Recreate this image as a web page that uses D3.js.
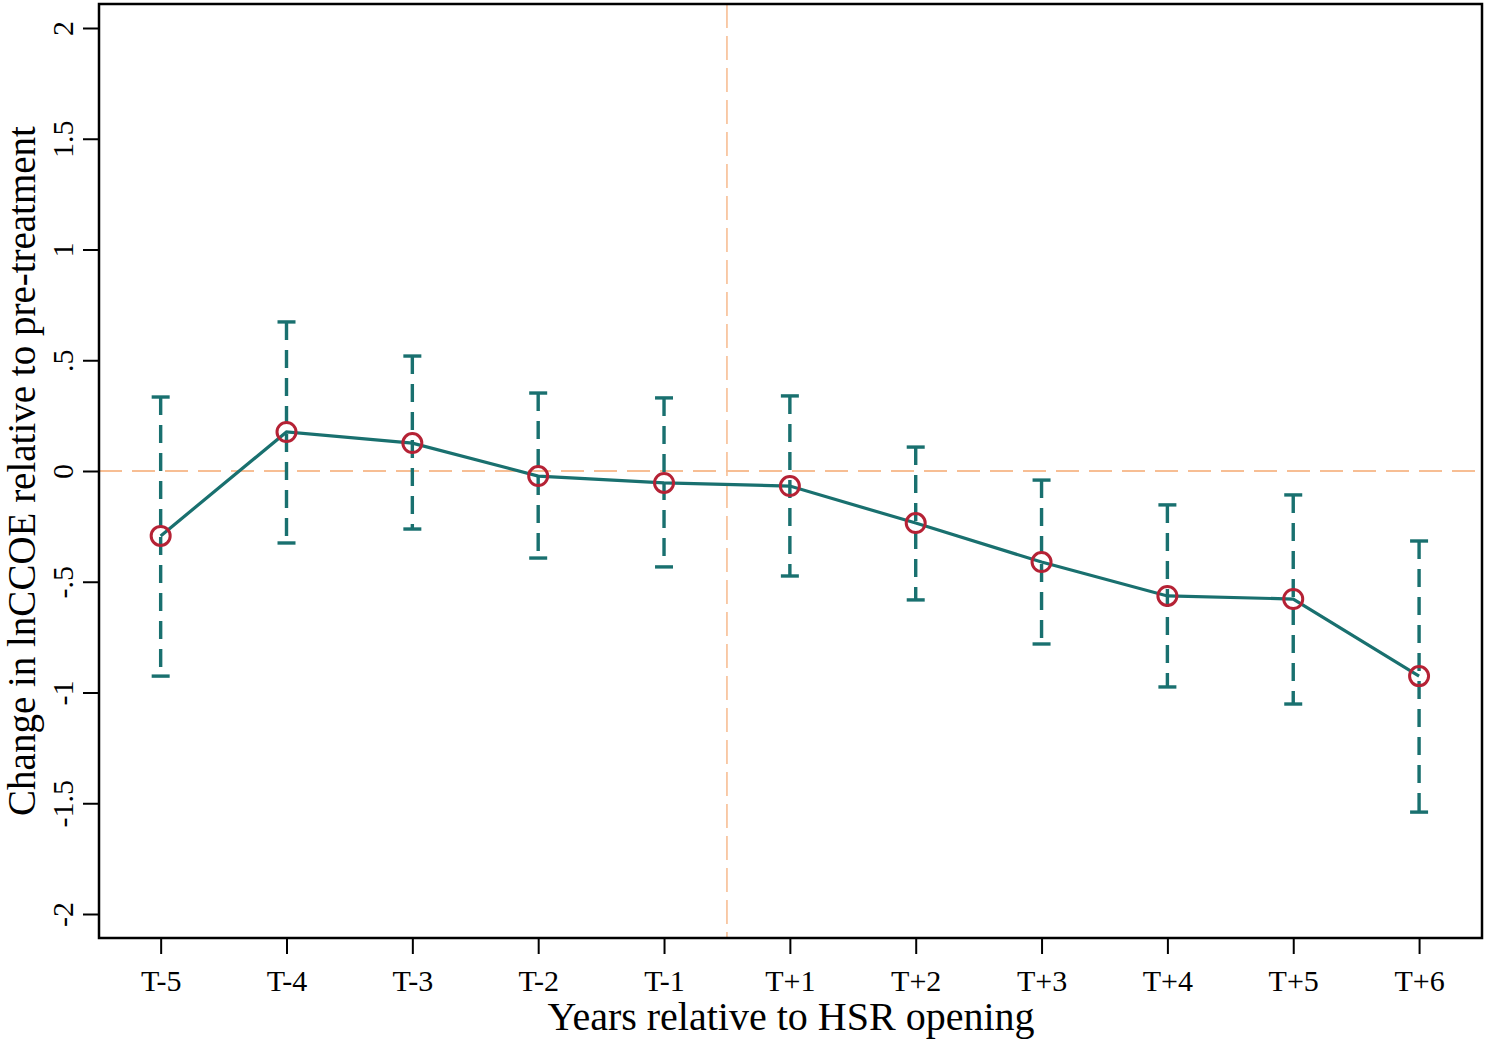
<!DOCTYPE html>
<html>
<head>
<meta charset="utf-8">
<script src="https://cdn.jsdelivr.net/npm/d3@7"></script>
<style>
  html, body { margin: 0; padding: 0; background: #fff; }
  svg { display: block; }
  text { font-family: "Liberation Serif", "Times New Roman", serif; fill: #000; }
</style>
</head>
<body>
<svg id="chart" width="1487" height="1040"></svg>
<script>
const categories = ["T-5","T-4","T-3","T-2","T-1","T+1","T+2","T+3","T+4","T+5","T+6"];
const estimates  = [-0.293, 0.176, 0.126, -0.023, -0.054, -0.068, -0.235, -0.411, -0.564, -0.578, -0.926];
const ciUpper    = [0.334, 0.673, 0.519, 0.352, 0.330, 0.339, 0.108, -0.041, -0.153, -0.108, -0.316];
const ciLower    = [-0.926, -0.325, -0.262, -0.393, -0.433, -0.474, -0.582, -0.781, -0.975, -1.052, -1.540];
const yTicks     = [-2, -1.5, -1, -0.5, 0, 0.5, 1, 1.5, 2];
const yTickLabels = ["-2", "-1.5", "-1", "-.5", "0", ".5", "1", "1.5", "2"];
const treatmentPosition = 4.5; // between T-1 and T+1

const teal = "#19706f", red = "#b52235", peach = "#f7be94";

const svg = d3.select("#chart");
const L = 99, R = 1482, T = 4, B = 938;

const x = d3.scaleLinear().domain([-0.49, 10.5]).range([L, R]);
const y = d3.scaleLinear().domain([-2, 2]).range([914, 28]);

// reference lines
svg.append("line")
  .attr("x1", L).attr("x2", R).attr("y1", y(0)).attr("y2", y(0))
  .attr("stroke", peach).attr("stroke-width", 2).attr("stroke-dasharray", "23,10");
svg.append("line")
  .attr("x1", x(treatmentPosition)).attr("x2", x(treatmentPosition)).attr("y1", T).attr("y2", B)
  .attr("stroke", peach).attr("stroke-width", 1.6).attr("stroke-dasharray", "24,8");

const data = categories.map((c, i) => ({ c, i, est: estimates[i], hi: ciUpper[i], lo: ciLower[i] }));

// error bars
const eb = svg.append("g");
data.forEach(d => {
  eb.append("line")
    .attr("x1", x(d.i)).attr("x2", x(d.i)).attr("y1", y(d.hi)).attr("y2", y(d.lo))
    .attr("stroke", teal).attr("stroke-width", 3.4).attr("stroke-dasharray", "18,10");
  [d.hi, d.lo].forEach(v => {
    eb.append("line")
      .attr("x1", x(d.i) - 9).attr("x2", x(d.i) + 9).attr("y1", y(v)).attr("y2", y(v))
      .attr("stroke", teal).attr("stroke-width", 3.4);
  });
});

// connecting line
svg.append("path")
  .datum(data)
  .attr("fill", "none").attr("stroke", teal).attr("stroke-width", 3.2)
  .attr("d", d3.line().x(d => x(d.i)).y(d => y(d.est)));

// markers
svg.append("g").selectAll("circle").data(data).join("circle")
  .attr("cx", d => x(d.i)).attr("cy", d => y(d.est)).attr("r", 9.5)
  .attr("fill", "none").attr("stroke", red).attr("stroke-width", 3);

// frame
svg.append("rect")
  .attr("x", L).attr("y", T).attr("width", R - L).attr("height", B - T)
  .attr("fill", "none").attr("stroke", "#000").attr("stroke-width", 2.5);

// y axis
const yAxis = svg.append("g").attr("transform", `translate(${L},0)`)
  .call(d3.axisLeft(y).tickValues(yTicks).tickSize(16).tickPadding(0)
    .tickFormat((d, i) => yTickLabels[i]));
yAxis.select(".domain").remove();
yAxis.selectAll(".tick line").attr("stroke", "#000").attr("stroke-width", 2);
yAxis.selectAll(".tick text")
  .attr("x", 0).attr("y", 0).attr("dy", null)
  .attr("transform", "translate(-37,0) rotate(-90)")
  .attr("text-anchor", "middle").attr("dominant-baseline", "central")
  .style("font-size", "30px");

// x axis
const xAxis = svg.append("g").attr("transform", `translate(0,${B})`)
  .call(d3.axisBottom(x).tickValues(d3.range(categories.length)).tickSize(16).tickPadding(0)
    .tickFormat(i => categories[i]));
xAxis.select(".domain").remove();
xAxis.selectAll(".tick line").attr("stroke", "#000").attr("stroke-width", 2);
xAxis.selectAll(".tick text").attr("y", 53).attr("dy", null)
  .style("font-size", "30px");

// axis titles
svg.append("text")
  .attr("x", 791).attr("y", 1030)
  .attr("text-anchor", "middle").style("font-size", "40px")
  .text("Years relative to HSR opening");
svg.append("text")
  .attr("transform", "translate(21,471) rotate(-90)")
  .attr("text-anchor", "middle").attr("dominant-baseline", "central")
  .style("font-size", "39px")
  .text("Change in lnCCOE relative to pre-treatment");
</script>
</body>
</html>
